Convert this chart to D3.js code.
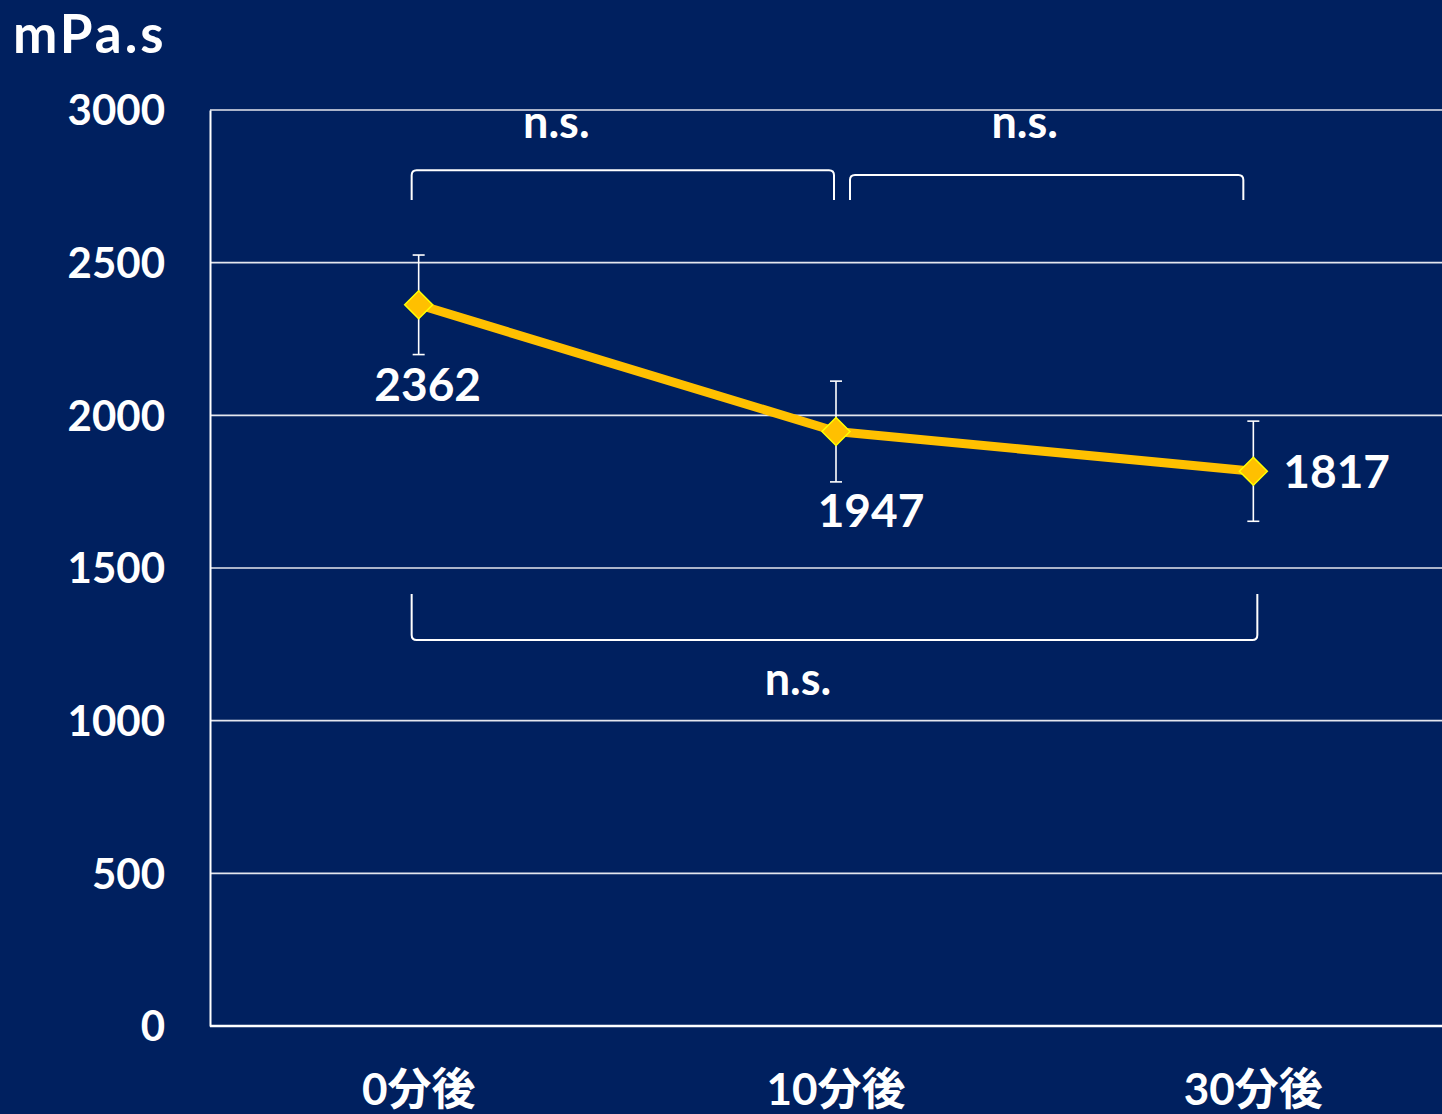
<!DOCTYPE html>
<html><head><meta charset="utf-8">
<script src="https://cdn.jsdelivr.net/npm/d3@7"></script>
<style>
html,body{margin:0;padding:0;background:#00205F;overflow:hidden;}
svg{display:block;}
text{font-family:Lato,"Noto Sans CJK JP",sans-serif;font-weight:bold;fill:#fff;}
</style></head>
<body>
<svg id="chart" width="1442" height="1114"></svg>
<script>
const categories = ["0分後", "10分後", "30分後"];
const means = [2362, 1947, 1817];
const sds = [163, 165, 164];
const yTicks = [0, 500, 1000, 1500, 2000, 2500, 3000];
const unitLabel = "mPa.s";
const sigLabels = ["n.s.", "n.s.", "n.s."];

(function () {
const svg = d3.select("#chart");
const W = 1442, H = 1114;
svg.append("rect").attr("width", W).attr("height", H).attr("fill", "#00205F");

const pLeft = 210, pTop = 110, pBottom = 1026, pRight = 1462;
const x = d3.scaleBand().domain(categories).range([pLeft, pRight]);
const cx = c => x(c) + x.bandwidth() / 2;
const y = d3.scaleLinear().domain([0, 3000]).range([pBottom, pTop]);

// gridlines
svg.append("g").selectAll("line").data(yTicks.filter(t => t > 0)).join("line")
  .attr("x1", pLeft).attr("x2", W).attr("y1", d => y(d)).attr("y2", d => y(d))
  .attr("stroke", "#e4e6ee").attr("stroke-width", 1.6);

// y axis
const yAxis = d3.axisLeft(y).tickValues(yTicks).tickSize(0).tickPadding(45).tickFormat(d3.format("d"));
const gy = svg.append("g").attr("transform", `translate(${pLeft},0)`).call(yAxis);
gy.select(".domain").attr("stroke", "#fff").attr("stroke-width", 2);
gy.selectAll(".tick text").attr("font-size", 42).attr("font-family", "Lato,sans-serif")
  .attr("font-weight", "bold").attr("fill", "#fff").attr("dy", "0.35em");

// x axis line
svg.append("line").attr("x1", pLeft).attr("x2", W).attr("y1", pBottom).attr("y2", pBottom)
  .attr("stroke", "#fff").attr("stroke-width", 2.5);

// x labels
svg.append("g").selectAll("text").data(categories).join("text")
  .attr("x", d => cx(d)).attr("y", 1105).attr("text-anchor", "middle")
  .attr("font-size", 44).text(d => d);

// unit label
svg.append("text").attr("x", 13).attr("y", 53).attr("font-size", 53)
  .attr("letter-spacing", 3).text(unitLabel);

// error bars
const eb = svg.append("g").attr("stroke", "#fff").attr("stroke-width", 1.6);
categories.forEach((c, i) => {
  const xc = cx(c), y1 = y(means[i] + sds[i]), y2 = y(means[i] - sds[i]);
  eb.append("line").attr("x1", xc).attr("x2", xc).attr("y1", y1).attr("y2", y2);
  eb.append("line").attr("x1", xc - 6).attr("x2", xc + 6).attr("y1", y1).attr("y2", y1);
  eb.append("line").attr("x1", xc - 6).attr("x2", xc + 6).attr("y1", y2).attr("y2", y2);
});

// line
const line = d3.line().x((d, i) => cx(categories[i])).y(d => y(d));
svg.append("path").datum(means).attr("d", line).attr("fill", "none")
  .attr("stroke", "#FFC000").attr("stroke-width", 9).attr("stroke-linejoin", "round");

// markers
svg.append("g").selectAll("path").data(means).join("path")
  .attr("transform", (d, i) => `translate(${cx(categories[i])},${y(d)})`)
  .attr("d", "M0,-14L14,0L0,14L-14,0Z")
  .attr("fill", "#FFC000").attr("stroke", "#FFFF00").attr("stroke-width", 1.5);

// data labels
const labelPlace = [{dx: 9, dy: 96, a: "middle"}, {dx: 35, dy: 95, a: "middle"}, {dx: 30, dy: 17, a: "start"}];
svg.append("g").selectAll("text").data(means).join("text")
  .attr("x", (d, i) => cx(categories[i]) + labelPlace[i].dx)
  .attr("y", (d, i) => y(d) + labelPlace[i].dy)
  .attr("text-anchor", (d, i) => labelPlace[i].a)
  .attr("font-size", 46).text(d => d);

// significance brackets
function bracket(x1, x2, yLine, yEnd, r) {
  const dir = yEnd > yLine ? 1 : -1;
  return `M${x1},${yEnd} L${x1},${yLine + dir * r} Q${x1},${yLine} ${x1 + r},${yLine} ` +
         `L${x2 - r},${yLine} Q${x2},${yLine} ${x2},${yLine + dir * r} L${x2},${yEnd}`;
}
const bk = svg.append("g").attr("fill", "none").attr("stroke", "#fff").attr("stroke-width", 2);
const c0 = cx(categories[0]), c1 = cx(categories[1]), c2 = cx(categories[2]);
bk.append("path").attr("d", bracket(c0 - 7, c1 - 2, y(2803), y(2705), 5));
bk.append("path").attr("d", bracket(c1 + 14, c2 - 10, y(2787), y(2705), 5));
bk.append("path").attr("d", bracket(c0 - 7, c2 + 4, y(1264), y(1415), 5));

svg.append("text").attr("x", (c0 + c1) / 2 - 71).attr("y", 138).attr("text-anchor", "middle").attr("font-size", 45).text(sigLabels[0]);
svg.append("text").attr("x", (c1 + c2) / 2 - 20).attr("y", 138).attr("text-anchor", "middle").attr("font-size", 45).text(sigLabels[1]);
svg.append("text").attr("x", (c0 + c2) / 2 - 38).attr("y", 695).attr("text-anchor", "middle").attr("font-size", 45).text(sigLabels[2]);
})();
</script>
</body></html>
